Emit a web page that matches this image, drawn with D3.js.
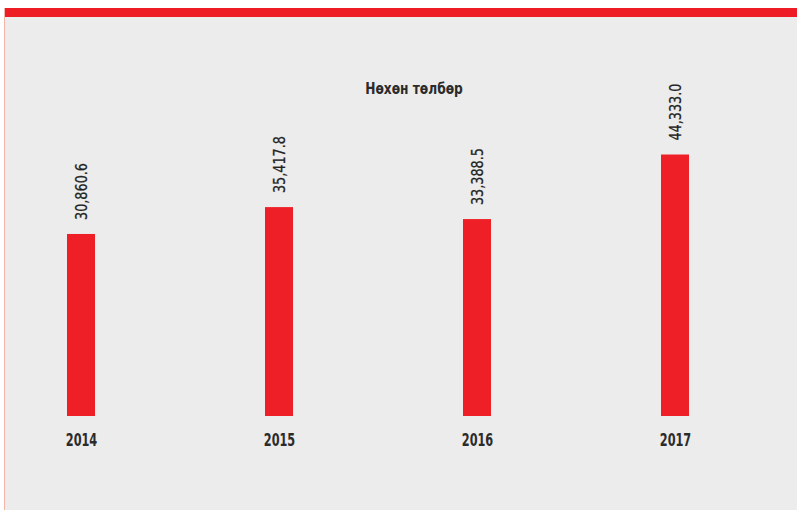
<!DOCTYPE html>
<html><head><meta charset="utf-8">
<script src="https://cdn.jsdelivr.net/npm/d3@7"></script>
<style>html,body{margin:0;padding:0;background:#fff;}svg{display:block;}</style>
</head><body>
<svg id="chart" width="797" height="510"></svg>
<script>
const categories = ["2014", "2015", "2016", "2017"];
const values = [30860.6, 35417.8, 33388.5, 44333.0];
const valueLabels = ["30,860.6", "35,417.8", "33,388.5", "44,333.0"];
const title = "Нөхөн төлбөр";

const svg = d3.select("#chart");
const font = "'DejaVu Sans Condensed','DejaVu Sans',sans-serif";

// background panel
svg.append("rect").attr("x", 4).attr("y", 17).attr("width", 793).attr("height", 493).attr("fill", "#ebeceb");
svg.append("line").attr("x1", 4.5).attr("x2", 4.5).attr("y1", 8).attr("y2", 510).attr("stroke", "#f3b5a8").attr("stroke-width", 1);
svg.append("rect").attr("x", 5).attr("y", 8).attr("width", 792).attr("height", 9).attr("fill", "#ee1c25");

const x = d3.scalePoint().domain(categories).range([81, 675]);
const y = d3.scaleLinear().domain([0, 44420]).range([416, 154]);
const bw = 28;

svg.append("g").selectAll("rect").data(values).join("rect")
  .attr("x", (d, i) => x(categories[i]) - bw / 2)
  .attr("y", d => y(d))
  .attr("width", bw)
  .attr("height", d => y(0) - y(d))
  .attr("fill", "#ee1f26");

svg.append("g").selectAll("text").data(values).join("text")
  .attr("transform", (d, i) => `translate(${x(categories[i]) + 6},${y(d) - 14}) rotate(-90) scale(0.89,1)`)
  .attr("text-anchor", "start")
  .attr("font-family", font)
  .attr("font-size", 16)
  .attr("fill", "#222")
  .attr("stroke", "#222")
  .attr("stroke-width", 0.25)
  .text((d, i) => valueLabels[i]);

const xAxis = d3.axisBottom(x).tickSize(0).tickPadding(0);
const ga = svg.append("g").attr("transform", "translate(0,432)").call(xAxis);
ga.select(".domain").remove();
ga.selectAll(".tick text")
  .attr("font-family", font)
  .attr("font-size", 17)
  .attr("font-weight", "bold")
  .attr("fill", "#2b2b2b")
  .attr("transform", "scale(0.74,1)")
  .attr("dy", "0.82em");

svg.append("text")
  .attr("transform", "translate(414,94) scale(0.85,1)")
  .attr("text-anchor", "middle")
  .attr("font-family", font)
  .attr("font-size", 16)
  .attr("font-weight", "bold")
  .attr("fill", "#2b2b2b")
  .text(title);
</script>
</body></html>
